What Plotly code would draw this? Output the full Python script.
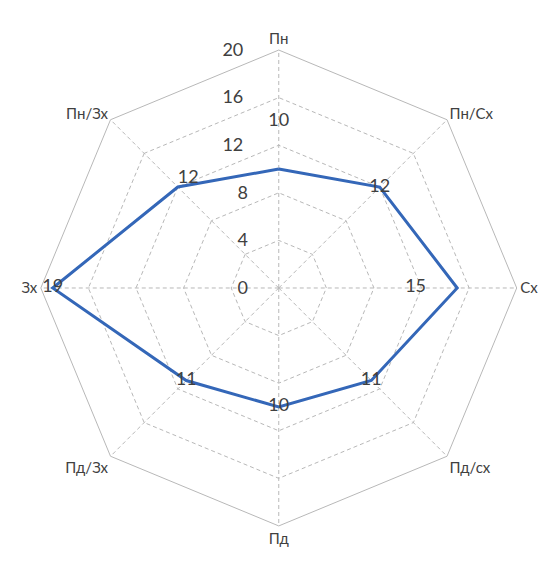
import plotly.graph_objects as go

directions = ["Пн", "Пн/Сх", "Сх", "Пд/сх", "Пд", "Пд/Зх", "Зх", "Пн/Зх"]
values = [10, 12, 15, 11, 10, 11, 19, 12]
radial_ticks = [0, 4, 8, 12, 16, 20]

label_offsets = [4, 0, -3.5, 0, 0, 0, 0, 0]
label_positions = ["middle center", "middle center", "middle center", "middle center",
                   "middle center", "middle center", "middle center", "top right"]

FONT = "Lato, 'Open Sans', sans-serif"
TXT = "#404040"
GRID = "#b8b8b8"
NB = "\u00a0"


def padded(t):
    s = str(t)
    return s + NB * (7 if len(s) > 1 else 6)


fig = go.Figure()
fig.add_trace(go.Scatterpolar(
    r=values + values[:1],
    theta=directions + directions[:1],
    mode="lines",
    line=dict(color="#3467B8", width=3),
    showlegend=False,
    hoverinfo="skip",
))
fig.add_trace(go.Scatterpolar(
    r=[v + o for v, o in zip(values, label_offsets)],
    theta=directions,
    mode="text",
    text=[str(v) for v in values],
    textposition=label_positions,
    textfont=dict(family=FONT, size=18, color=TXT),
    showlegend=False,
))

fig.update_layout(
    width=547, height=562,
    margin=dict(l=0, r=0, t=0, b=0),
    paper_bgcolor="white",
    font=dict(family=FONT, color=TXT, size=15),
    polar=dict(
        domain=dict(x=[0.060, 0.930], y=[0.0783, 0.9253]),
        bgcolor="white",
        gridshape="linear",
        radialaxis=dict(
            range=[0, 20],
            tickvals=radial_ticks,
            ticktext=[padded(t) for t in radial_ticks],
            angle=90,
            tickangle=90,
            side="counterclockwise",
            showline=False,
            gridcolor=GRID,
            griddash="4px,3px",
            gridwidth=1,
            ticks="",
            tickfont=dict(family=FONT, size=18, color=TXT),
        ),
        angularaxis=dict(
            direction="clockwise",
            rotation=90,
            categoryorder="array",
            categoryarray=directions,
            gridcolor=GRID,
            griddash="4px,3px",
            linecolor=GRID,
            showline=True,
            ticks="",
            tickfont=dict(family=FONT, size=15, color=TXT),
        ),
    ),
)

fig.write_html("out.html")
